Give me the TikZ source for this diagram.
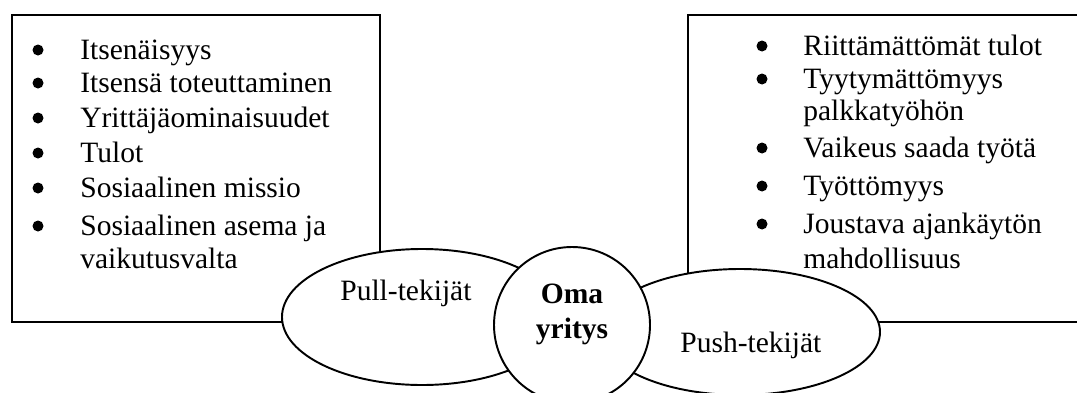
\documentclass[tikz,border=0pt]{standalone}
\usepackage{fontspec}
\setmainfont{Liberation Serif}
\def\itemdot(#1,#2){\fill (#1, #2-9) circle (5.5);}
\tikzset{
	linetext/.style={anchor=base west, inner sep=0pt, font=\fontsize{16.8}{20}\selectfont},
	boldtext/.style={anchor=base, inner sep=0pt, font=\bfseries\fontsize{16.8}{20}\selectfont},
	outline/.style={line width=1.1pt, color=black}
}

\begin{document}
\begin{tikzpicture}[x=0.02cm, y=-0.02cm]
			%%%%% START %%%%%
			\useasboundingbox (0, 0) rectangle (1077, 392);
			
			\draw[outline] (12, 15) rectangle (380, 322);
			\draw[outline] (1100, 15) -- (688, 15) -- (688, 322) -- (1100, 322);
			
			\itemdot(38,59)
			\node[linetext] (l1) at (80, 59) {Itsenäisyys};
			\itemdot(38,92)
			\node[linetext] (l2) at (80, 92) {Itsensä toteuttaminen};
			\itemdot(38,127)
			\node[linetext] (l3) at (80, 127) {Yrittäjäominaisuudet};
			\itemdot(38,162)
			\node[linetext] (l4) at (80, 162) {Tulot};
			\itemdot(38,197)
			\node[linetext] (l5) at (80, 197) {Sosiaalinen missio};
			\itemdot(38,235)
			\node[linetext] (l6) at (80, 235) {Sosiaalinen asema ja};
			\node[linetext] (l7) at (80, 268) {vaikutusvalta};
			
			\itemdot(762,55)
			\node[linetext] (r1) at (803, 55) {Riittämättömät tulot};
			\itemdot(762,88)
			\node[linetext] (r2) at (803, 88) {Tyytymättömyys};
			\node[linetext] (r3) at (803, 120) {palkkatyöhön};
			\itemdot(762,157)
			\node[linetext] (r4) at (803, 157) {Vaikeus saada työtä};
			\itemdot(762,195)
			\node[linetext] (r5) at (803, 195) {Työttömyys};
			\itemdot(762,233)
			\node[linetext] (r6) at (803, 233) {Joustava ajankäytön};
			\node[linetext] (r7) at (803, 268) {mahdollisuus};
			
			\draw[outline, fill=white] (422, 317) ellipse (140 and 68);
			\draw[outline, fill=white] (740, 332) ellipse (140 and 63);
			\draw[outline, fill=white] (572, 325) circle (78);
			
			\node[linetext] (pull) at (340, 300) {Pull-tekijät};
			\node[linetext] (push) at (680, 352) {Push-tekijät};
			\node[boldtext] (oma) at (572, 303) {Oma};
			\node[boldtext] (yritys) at (572, 338) {yritys};
			
			%%%%% END %%%%%
\end{tikzpicture}
\end{document}
